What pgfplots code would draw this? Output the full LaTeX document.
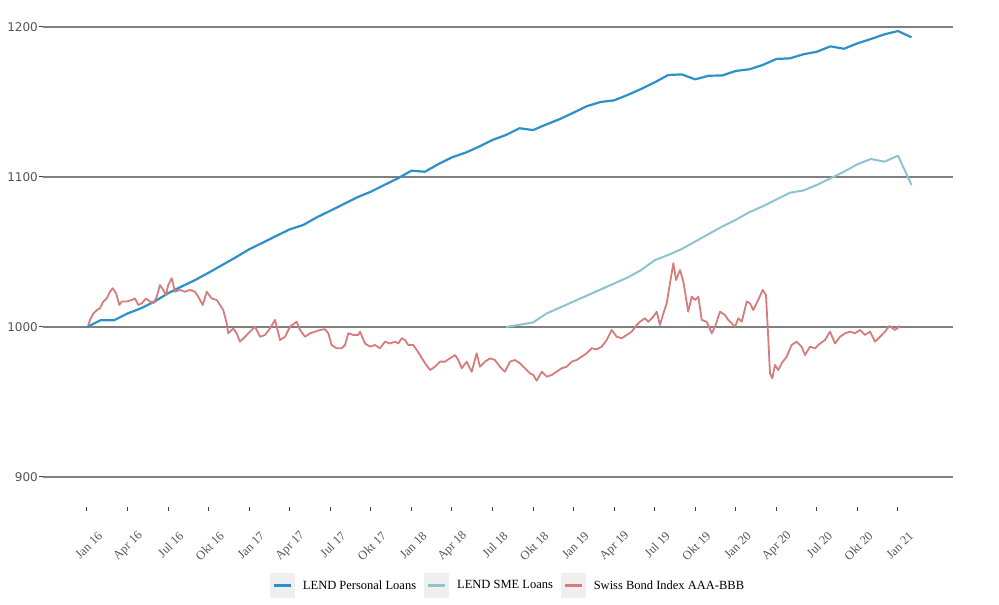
\documentclass[border=0pt]{standalone}
\usepackage{fontspec}
\setmainfont{Liberation Serif}
\newfontfamily\dejavu{DejaVu Sans}
\usepackage{pgfplots}
\pgfplotsset{compat=1.18}
\definecolor{cBlue}{RGB}{43,145,200}
\definecolor{cSME}{RGB}{140,196,207}
\definecolor{cRed}{RGB}{214,124,124}
\definecolor{cGrid}{RGB}{128,128,128}
\definecolor{cTick}{RGB}{85,85,85}
\definecolor{cLeg}{RGB}{239,239,239}
\begin{document}
\begin{tikzpicture}
\path[use as bounding box] (0pt,0pt) rectangle (999pt,605pt);
\begin{axis}[
  at={(43pt,98pt)}, anchor=south west,
  scale only axis, width=910pt, height=495pt,
  xmin=-3.255, xmax=64.07, ymin=880, ymax=1210,
  axis lines*=left, axis line style={draw=none},
  ymajorgrids, grid style={cGrid, line width=1.2pt},
  ytick={900,1000,1100,1200},
  xtick={0,3,...,60},
  xticklabels={Jan 16,Apr 16,Jul 16,Okt 16,Jan 17,Apr 17,Jul 17,Okt 17,Jan 18,Apr 18,Jul 18,Okt 18,Jan 19,Apr 19,Jul 19,Okt 19,Jan 20,Apr 20,Jul 20,Okt 20,Jan 21},
  tick align=outside, major tick length=4pt,
  tick style={draw=black!75, line width=1pt},
  /pgf/number format/assume math mode=true,
  /pgf/number format/1000 sep={},
  yticklabel style={font=\dejavu\fontsize{12}{14}\selectfont, text=cTick, inner sep=1pt},
  xticklabel style={font=\fontsize{12.5}{14}\selectfont, text=cTick, xshift=14pt, yshift=-22pt, rotate=45, anchor=east, inner sep=1pt},
  legend columns=3,
  legend style={at={(0.2492,-0.1586)}, anchor=west, draw=none, fill=none, inner sep=0pt, outer sep=0pt,
    column sep=8pt, font=\fontsize{12.5}{14}\selectfont, nodes={inner sep=0pt}},
  legend image code/.code={\fill[cLeg] (0pt,-11.5pt) rectangle (23pt,11.5pt); \draw[#1, line width=2.2pt] (3pt,0pt) -- (20pt,0pt);},
]
\addplot[cBlue, line width=2.2pt, line join=round] coordinates {
(0,1000)(1,1004.5)(2,1004.5)(3,1009)(4,1012.5)(5,1017)(6,1022.5)(7,1027)(8,1031.3)(9,1036.2)
(10,1041.3)(11,1046.4)(12,1051.8)(13,1056.2)(14,1060.7)(15,1065.1)(16,1068)(17,1073.1)(18,1077.5)(19,1082)
(20,1086.5)(21,1090.2)(22,1094.7)(23,1099.1)(24,1104.2)(25,1103.5)(26,1108.6)(27,1113.1)(28,1116.2)(29,1120.2)
(30,1124.7)(31,1128)(32,1132.5)(33,1131.3)(34,1135.1)(35,1138.7)(36,1142.9)(37,1147.3)(38,1150)(39,1151.1)
(40,1154.7)(41,1158.7)(42,1163.1)(43,1168)(44,1168.4)(45,1165.1)(46,1167.5)(47,1167.7)(48,1170.7)(49,1171.8)
(50,1174.7)(51,1178.7)(52,1179.1)(53,1181.8)(54,1183.5)(55,1187.1)(56,1185.5)(57,1189.1)(58,1192)(59,1195.1)
(60,1197.3)(61,1193.1)};
\addlegendentry{LEND Personal Loans}
\addplot[cSME, line width=2pt, line join=round] coordinates {
(31,1000)(32,1001.5)(33,1003)(34,1009)(35,1013)(36,1017)(37,1021)(38,1025)(39,1029)
(40,1033)(41,1038)(42,1044.5)(43,1048)(44,1052)(45,1057)(46,1062)(47,1067)(48,1071.5)(49,1076.5)
(50,1080.5)(51,1085)(52,1089.5)(53,1091)(54,1094.7)(55,1099.1)(56,1103.5)(57,1108.5)(58,1112)(59,1110.2)
(60,1114.2)(61,1094.7)};
\addlegendentry{LEND SME Loans}
\addplot[cRed, line width=1.8pt, line join=round] coordinates {
(0.10,1001.3)(0.22,1004.7)(0.47,1009)(0.72,1011.3)(0.96,1012.5)(1.21,1017)(1.46,1019)(1.70,1023.5)(1.90,1025.8)
(2.15,1022.5)(2.39,1014.7)(2.57,1017)(2.94,1017)(3.31,1018)(3.55,1019)(3.80,1014.7)(4.05,1015.8)(4.36,1019)
(4.66,1017)(4.91,1015.8)(5.16,1020.2)(5.40,1028)(5.64,1024.7)(5.84,1021.3)(6.01,1028)(6.27,1032.5)(6.51,1023.5)
(6.88,1024.7)(7.25,1023.5)(7.62,1024.7)(7.99,1023.5)(8.23,1020.2)(8.56,1014.7)(8.86,1023.5)(9.23,1019)(9.60,1018)
(9.84,1014.7)(10.08,1011.3)(10.34,1002.5)(10.45,995.8)(10.82,999)(11.07,995.8)(11.32,990.2)(11.69,993.5)
(12.06,996.9)(12.43,1000.2)(12.80,993.5)(13.17,994.7)(13.54,999.1)(13.91,1004.7)(14.28,991.3)(14.65,993.5)
(15.02,1000.2)(15.51,1003.5)(15.76,998)(16.13,993.5)(16.50,995.8)(16.87,996.9)(17.24,998)(17.61,998.5)
(17.85,995.8)(18.10,988)(18.47,985.8)(18.84,985.8)(19.09,988)(19.33,995.8)(19.70,994.7)(20.07,994.7)
(20.20,996.9)(20.57,989)(20.94,986.9)(21.31,988)(21.67,985.8)(22.05,990.2)(22.42,989)(22.79,990.2)(23.03,989)
(23.28,992.5)(23.53,991.3)(23.77,988)(24.14,988)(24.39,984.7)(24.64,981.3)(25.01,975.8)(25.38,971.3)
(25.74,973.5)(26.12,976.9)(26.48,976.9)(26.85,979.1)(27.23,981.3)(27.47,978)(27.72,972.5)(28.09,976.9)
(28.46,970.2)(28.83,982.5)(29.07,973.5)(29.44,976.9)(29.81,979.1)(30.18,978)(30.55,973.5)(30.92,970.2)
(31.29,976.9)(31.66,978)(32.03,975.8)(32.40,972.5)(32.77,969.1)(33.02,968)(33.27,964.2)(33.64,970.2)
(34.01,966.9)(34.38,968)(34.75,970.2)(35.12,972.5)(35.49,973.5)(35.86,976.9)(36.23,978)(36.60,980.2)
(36.97,982.5)(37.34,985.8)(37.71,985.1)(38.08,986.9)(38.45,991.3)(38.82,998)(39.19,993.5)(39.56,992.5)
(39.93,994.7)(40.30,996.9)(40.67,1001.3)(40.91,1003.5)(41.28,1005.8)(41.53,1003.5)(41.90,1006.9)(42.15,1010.2)
(42.39,1001.3)(42.64,1009)(42.89,1015.8)(43.13,1029.1)(43.38,1042.5)(43.58,1031.3)(43.87,1038)(44.12,1030.2)
(44.48,1010.2)(44.74,1020.2)(44.98,1018)(45.23,1020.2)(45.48,1004.7)(45.85,1003.5)(46.22,995.8)(46.46,1000.2)
(46.83,1010.2)(47.20,1008)(47.44,1004.7)(47.94,1000.2)(48.19,1005.8)(48.44,1003.5)(48.81,1017)(49.05,1015.8)
(49.29,1011.3)(49.66,1018)(49.99,1024.7)(50.23,1021.3)(50.36,1000.2)(50.53,969.1)(50.70,965.8)(50.90,974.7)
(51.14,971.3)(51.39,975.8)(51.76,980.2)(52.13,988)(52.50,990.2)(52.87,986.9)(53.12,981.3)(53.49,986.9)
(53.86,985.8)(54.23,989)(54.60,991.3)(54.97,996.9)(55.34,989)(55.71,993.5)(56.08,995.8)(56.45,996.9)
(56.82,995.8)(57.19,998)(57.56,994.7)(57.93,996.9)(58.30,990.2)(58.67,993.5)(59.04,996.9)(59.36,1000.7)
(59.78,998)(60.15,1000.7)};
\addlegendentry{Swiss Bond Index AAA-BBB}
\end{axis}
\end{tikzpicture}
\end{document}
